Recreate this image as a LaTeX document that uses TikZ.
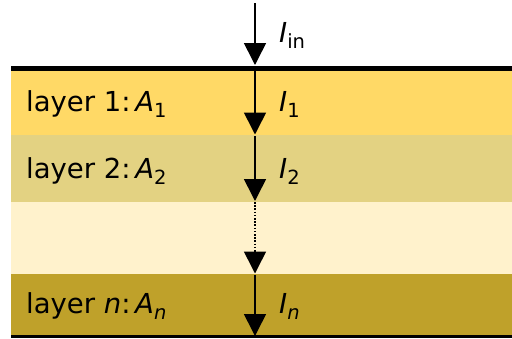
\documentclass[tikz,border=0pt]{standalone}
\usepackage{fontspec}
\setmainfont{DejaVu Sans}
\usetikzlibrary{arrows.meta}
\definecolor{cA}{RGB}{255,217,102}
\definecolor{cB}{RGB}{227,210,130}
\definecolor{cC}{RGB}{255,242,204}
\definecolor{cD}{RGB}{191,161,42}
\newcommand{\sbs}[1]{\raisebox{-0.22em}{\fontsize{19.5}{22}\selectfont #1}}
\begin{document}
\begin{tikzpicture}[x=1pt,y=-1pt,
  layerbox/.style={draw=none,anchor=north west,minimum width=501pt,inner sep=0pt,outer sep=0pt},
  lbl/.style={anchor=base west,inner sep=0pt,font=\fontsize{27.5}{32}\selectfont},
  flow/.style={line width=1.6pt,-{Triangle[width=22pt,length=22pt]}},
  edge/.style={line width=5pt}]
\useasboundingbox (0,0) rectangle (512,338);
\node[layerbox,fill=cA,minimum height=65pt] (L1) at (11,70) {};
\node[layerbox,fill=cB,minimum height=67pt] (L2) at (11,135) {};
\node[layerbox,fill=cC,minimum height=72pt] (L3) at (11,202) {};
\node[layerbox,fill=cD,minimum height=62pt] (L4) at (11,274) {};
\coordinate (t0) at (255,3);
\coordinate (t1) at (255,65);
\coordinate (s1) at (255,71);
\coordinate (e1) at (255,134.5);
\coordinate (s2) at (255,136);
\coordinate (e2) at (255,201);
\coordinate (s3) at (255,202);
\coordinate (m3) at (255,252);
\coordinate (e3) at (255,273.5);
\coordinate (s4) at (255,275);
\coordinate (e4) at (255,336);
\draw[edge] (11,68) -- (512,68);
\draw[line width=3.5pt] (11,336.3) -- (512,336.3);
\draw[flow] (t0) -- (t1);
\draw[flow] (s1) -- (e1);
\draw[flow] (s2) -- (e2);
\draw[line width=2pt,dash pattern=on 1.6pt off 1.6pt] (s3) -- (m3);
\draw[flow,shorten <=-1pt] (m3) -- (e3);
\draw[flow] (s4) -- (e4);
\node[lbl] (tin) at (279,42) {\textit{I}\sbs{in}};
\node[lbl] (t1l) at (26,111) {layer 1:\,\textit{A}\sbs{1}};
\node[lbl] (i1) at (279,111) {\textit{I}\sbs{1}};
\node[lbl] (t2l) at (26,178) {layer 2:\,\textit{A}\sbs{2}};
\node[lbl] (i2) at (279,178) {\textit{I}\sbs{2}};
\node[lbl] (t4l) at (26,313) {layer \textit{n}:\,\textit{A}\sbs{\textit{n}}};
\node[lbl] (i4) at (279,313) {\textit{I}\sbs{\textit{n}}};
\end{tikzpicture}
\end{document}
